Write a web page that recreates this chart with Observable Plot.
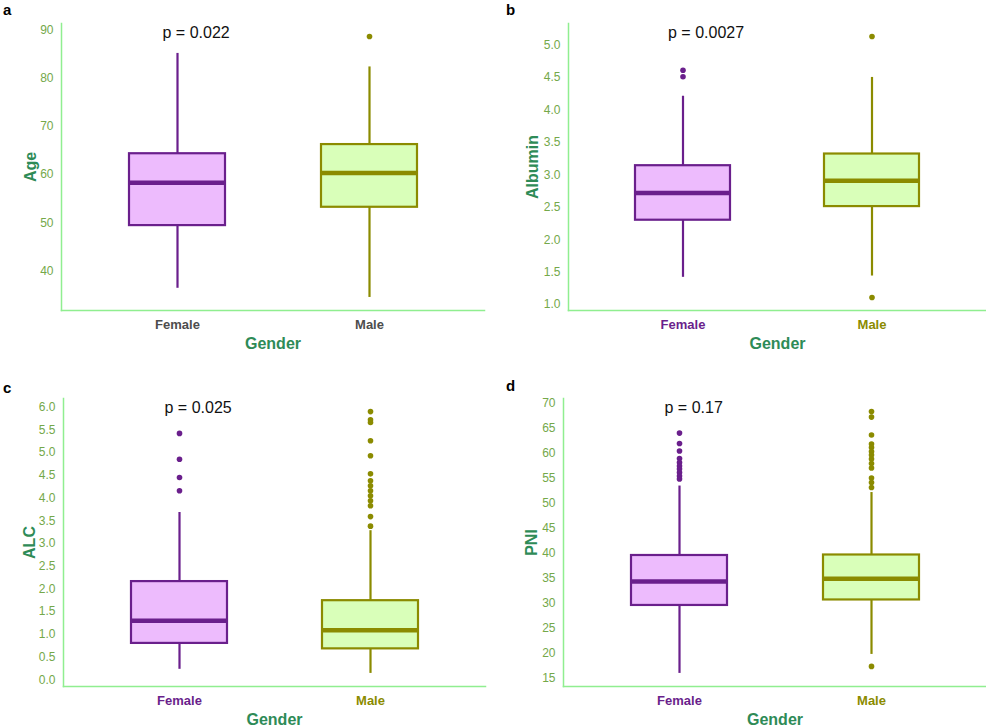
<!DOCTYPE html>
<html>
<head>
<meta charset="utf-8">
<script src="https://cdn.jsdelivr.net/npm/d3@7"></script>
<script src="https://cdn.jsdelivr.net/npm/@observablehq/plot@0.6"></script>
<style>
  html, body { margin: 0; padding: 0; background: #ffffff; }
  #root { position: relative; width: 986px; height: 726px; font-family: "Liberation Sans", Arial, sans-serif; }
  .panel { position: absolute; }
  .tag { position: absolute; font-size: 15px; font-weight: bold; color: #000; line-height: 1; }
</style>
</head>
<body>
<div id="root"></div>
<script>
// ---------- data ----------
const groups = ["Female", "Male"];

// a: Age
const ageQ1 = [49.4, 53.2];
const ageMedian = [58.3, 60.3];
const ageQ3 = [64.3, 66.2];
const ageLow = [36.4, 34.5];
const ageHigh = [85.1, 82.3];
const ageOutFemale = [];
const ageOutMale = [88.6];
const ageTicks = [40, 50, 60, 70, 80, 90];
const ageP = "p = 0.022";

// b: Albumin
const albQ1 = [2.30, 2.51];
const albMedian = [2.72, 2.91];
const albQ3 = [3.14, 3.32];
const albLow = [1.42, 1.44];
const albHigh = [4.21, 4.50];
const albOutFemale = [4.61, 4.51];
const albOutMale = [5.13, 1.11];
const albTicks = [1.0, 1.5, 2.0, 2.5, 3.0, 3.5, 4.0, 4.5, 5.0];
const albP = "p = 0.0027";

// c: ALC
const alcQ1 = [0.80, 0.68];
const alcMedian = [1.30, 1.09];
const alcQ3 = [2.16, 1.74];
const alcLow = [0.23, 0.14];
const alcHigh = [3.68, 3.28];
const alcOutFemale = [5.42, 4.85, 4.45, 4.16];
const alcOutMale = [5.90, 5.72, 5.66, 5.26, 4.93, 4.53, 4.38, 4.27, 4.16, 4.05, 3.94, 3.83, 3.59, 3.38];
const alcTicks = [0.0, 0.5, 1.0, 1.5, 2.0, 2.5, 3.0, 3.5, 4.0, 4.5, 5.0, 5.5, 6.0];
const alcP = "p = 0.025";

// d: PNI
const pniQ1 = [29.6, 30.7];
const pniMedian = [34.4, 34.95];
const pniQ3 = [39.6, 39.7];
const pniLow = [16.0, 19.8];
const pniHigh = [53.5, 52.2];
const pniOutFemale = [64.1, 62.0, 60.5, 59.0, 58.2, 57.5, 56.9, 56.2, 55.5, 54.9];
const pniOutMale = [68.4, 67.3, 63.7, 61.9, 61.2, 60.4, 59.7, 58.9, 58.0, 57.1, 55.1, 54.2, 53.2, 17.4];
const pniTicks = [15, 20, 25, 30, 35, 40, 45, 50, 55, 60, 65, 70];
const pniP = "p = 0.17";

// ---------- styles ----------
const boxFill = {Female: "#EDBBFD", Male: "#D9FFB9"};
const boxStroke = {Female: "#6A1F8C", Male: "#8B8B00"};
const axisLine = "#90EE90";
const tickText = "#74A84A";
const titleColor = "#2E8B57";
const fontFamily = "'Liberation Sans', Arial, sans-serif";

function rowsOf(q1, med, q3, lo, hi) {
  return groups.map((g, i) => ({group: g, q1: q1[i], median: med[i], q3: q3[i], low: lo[i], high: hi[i]}));
}
function outRowsOf(f, m) {
  return [...f.map(v => ({group: "Female", value: v})), ...m.map(v => ({group: "Male", value: v}))];
}
function extent(lo, hi, of, om) {
  const all = [...lo, ...hi, ...of, ...om];
  const mn = d3.min(all), mx = d3.max(all);
  const pad = (mx - mn) * 0.05;
  return [mn - pad, mx + pad];
}

function panel(cfg) {
  const rows = rowsOf(cfg.q1, cfg.med, cfg.q3, cfg.lo, cfg.hi);
  const outs = outRowsOf(cfg.of, cfg.om);
  const domain = extent(cfg.lo, cfg.hi, cfg.of, cfg.om);
  const xFill = cfg.coloredX ? (d => boxStroke[d]) : (() => "#4D4D4D");
  return Plot.plot({
    width: cfg.width, height: cfg.height,
    marginLeft: cfg.ml, marginRight: cfg.mr, marginTop: cfg.mt, marginBottom: cfg.mb,
    style: {fontFamily, background: "#ffffff", overflow: "visible"},
    x: {domain: groups, paddingInner: 0.5, paddingOuter: 0.35, label: null},
    y: {domain, label: null},
    color: {type: "identity"},
    marks: [
      Plot.frame({anchor: "left", stroke: axisLine, strokeWidth: 1.5}),
      Plot.frame({anchor: "bottom", stroke: axisLine, strokeWidth: 1.5}),
      Plot.axisY({ticks: cfg.ticks, tickSize: 0, tickPadding: 8, fill: tickText, fontSize: 12,
        tickFormat: cfg.fmt, label: null}),
      Plot.axisX({tickSize: 0, tickPadding: 9, fill: xFill, fontSize: 13, fontWeight: "bold", label: null}),
      Plot.ruleX(rows, {x: "group", y1: "low", y2: "q1", stroke: d => boxStroke[d.group], strokeWidth: 2.2}),
      Plot.ruleX(rows, {x: "group", y1: "q3", y2: "high", stroke: d => boxStroke[d.group], strokeWidth: 2.2}),
      Plot.barY(rows, {x: "group", y1: "q1", y2: "q3", fill: d => boxFill[d.group], stroke: d => boxStroke[d.group], strokeWidth: 2.2}),
      Plot.tickY(rows, {x: "group", y: "median", stroke: d => boxStroke[d.group], strokeWidth: 4.5}),
      Plot.dot(outs, {x: "group", y: "value", r: 2.8, fill: d => boxStroke[d.group], stroke: null}),
      Plot.text([cfg.p], {x: () => "Female", y: () => domain[1], text: d => d, textAnchor: "start", dx: -15, dy: 9,
        fontSize: 16, fill: "#111111"}),
      Plot.text([cfg.ylabel], {frameAnchor: "left", text: d => d, rotate: -90, dx: cfg.ydx, fontSize: 16,
        textAnchor: "middle", lineAnchor: "middle", fontWeight: "bold", fill: titleColor}),
      Plot.text(["Gender"], {frameAnchor: "bottom", text: d => d, dy: 33, fontSize: 16,
        textAnchor: "middle", lineAnchor: "middle", fontWeight: "bold", fill: titleColor})
    ]
  });
}

const root = document.getElementById("root");
function place(node, left, top) {
  const div = document.createElement("div");
  div.className = "panel";
  div.style.left = left + "px";
  div.style.top = top + "px";
  div.appendChild(node);
  root.appendChild(div);
}
function tag(t, left, top) {
  const d = document.createElement("div");
  d.className = "tag";
  d.textContent = t;
  d.style.left = left + "px";
  d.style.top = top + "px";
  root.appendChild(d);
}

const f1 = d3.format(".1f");

place(panel({q1: ageQ1, med: ageMedian, q3: ageQ3, lo: ageLow, hi: ageHigh, of: ageOutFemale, om: ageOutMale,
  ticks: ageTicks, fmt: d3.format("d"), p: ageP, ylabel: "Age", coloredX: false, ydx: -31,
  width: 493, height: 363, ml: 61, mr: 9, mt: 23, mb: 53}), 0, 0);
place(panel({q1: albQ1, med: albMedian, q3: albQ3, lo: albLow, hi: albHigh, of: albOutFemale, om: albOutMale,
  ticks: albTicks, fmt: f1, p: albP, ylabel: "Albumin", coloredX: true, ydx: -36,
  width: 493, height: 363, ml: 75, mr: 0, mt: 23, mb: 53}), 493, 0);
place(panel({q1: alcQ1, med: alcMedian, q3: alcQ3, lo: alcLow, hi: alcHigh, of: alcOutFemale, om: alcOutMale,
  ticks: alcTicks, fmt: f1, p: alcP, ylabel: "ALC", coloredX: true, ydx: -34,
  width: 493, height: 363, ml: 63, mr: 8, mt: 35, mb: 40}), 0, 363);
place(panel({q1: pniQ1, med: pniMedian, q3: pniQ3, lo: pniLow, hi: pniHigh, of: pniOutFemale, om: pniOutMale,
  ticks: pniTicks, fmt: d3.format("d"), p: pniP, ylabel: "PNI", coloredX: true, ydx: -32,
  width: 493, height: 363, ml: 70, mr: 0, mt: 35, mb: 40}), 493, 363);

tag("a", 3, 2);
tag("b", 506, 2);
tag("c", 3, 380);
tag("d", 506, 378);
</script>
</body>
</html>
